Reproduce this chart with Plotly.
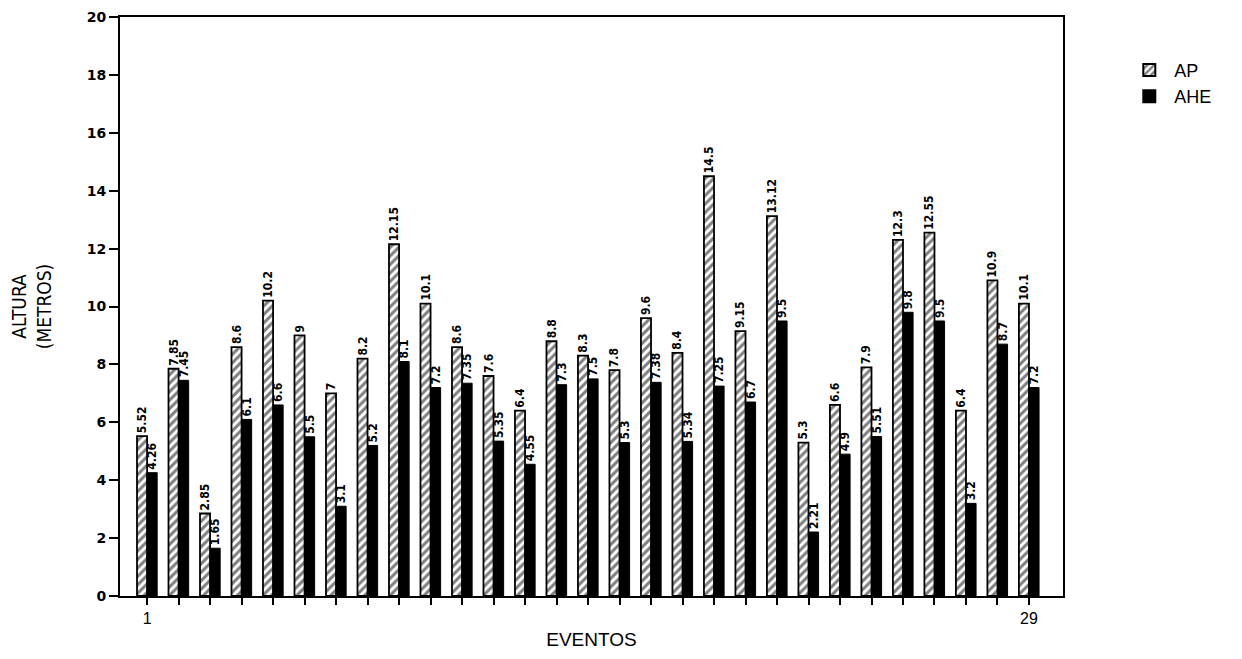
import plotly.graph_objects as go

eventos = list(range(1, 30))
ap = [5.52, 7.85, 2.85, 8.6, 10.2, 9, 7, 8.2, 12.15, 10.1, 8.6, 7.6, 6.4, 8.8, 8.3,
      7.8, 9.6, 8.4, 14.5, 9.15, 13.12, 5.3, 6.6, 7.9, 12.3, 12.55, 6.4, 10.9, 10.1]
ahe = [4.26, 7.45, 1.65, 6.1, 6.6, 5.5, 3.1, 5.2, 8.1, 7.2, 7.35, 5.35, 4.55, 7.3, 7.5,
       5.3, 7.38, 5.34, 7.25, 6.7, 9.5, 2.21, 4.9, 5.51, 9.8, 9.5, 3.2, 8.7, 7.2]
ap_text = ["5.52", "7.85", "2.85", "8.6", "10.2", "9", "7", "8.2", "12.15", "10.1", "8.6",
           "7.6", "6.4", "8.8", "8.3", "7.8", "9.6", "8.4", "14.5", "9.15", "13.12", "5.3",
           "6.6", "7.9", "12.3", "12.55", "6.4", "10.9", "10.1"]
ahe_text = ["4.26", "7.45", "1.65", "6.1", "6.6", "5.5", "3.1", "5.2", "8.1", "7.2", "7.35",
            "5.35", "4.55", "7.3", "7.5", "5.3", "7.38", "5.34", "7.25", "6.7", "9.5", "2.21",
            "4.9", "5.51", "9.8", "9.5", "3.2", "8.7", "7.2"]
y_ticks = [0, 2, 4, 6, 8, 10, 12, 14, 16, 18, 20]
x_ticktext = ["1"] + [""] * 27 + ["29"]

label_font = dict(family="DejaVu Sans Condensed, Liberation Sans Narrow, Arial Narrow, sans-serif",
                  size=12, color="black", weight="bold")

fig = go.Figure()
fig.add_trace(go.Bar(
    x=eventos, y=ap, name="AP", text=ap_text, textposition="outside", textangle=-90,
    textfont=label_font, constraintext="none", cliponaxis=False,
    marker=dict(color="white", line=dict(color="black", width=1.8),
                pattern=dict(shape="/", fgcolor="black", bgcolor="white", size=6, solidity=0.5)),
))
fig.add_trace(go.Bar(
    x=eventos, y=ahe, name="AHE", text=ahe_text, textposition="outside", textangle=-90,
    textfont=label_font, constraintext="none", cliponaxis=False,
    marker=dict(color="black", line=dict(color="black", width=1)),
))

fig.update_layout(
    width=1234, height=651,
    paper_bgcolor="white", plot_bgcolor="white",
    margin=dict(l=112, r=179, t=9, b=63, autoexpand=False),
    barmode="group", bargap=0.36, bargroupgap=0,
    font=dict(family="Liberation Sans, Arial, sans-serif", color="black"),
    legend=dict(x=1.065, y=0.94, xanchor="left", yanchor="top",
                font=dict(size=18, family="Liberation Sans, Arial, sans-serif"),
                tracegroupgap=30, itemsizing="constant", itemwidth=40),
    xaxis=dict(range=[0.14, 30.08], tickvals=eventos, ticktext=x_ticktext,
               ticks="outside", ticklen=7, tickwidth=1.5, tickcolor="black",
               showline=True, linecolor="black", linewidth=2, mirror=True,
               showgrid=False, zeroline=False, automargin=False,
               tickfont=dict(size=16),
               title=dict(text="EVENTOS", font=dict(size=19, family="Liberation Sans, Arial, sans-serif"),
                          standoff=6)),
    yaxis=dict(range=[0, 20], tickvals=y_ticks, ticks="outside", ticklen=9, tickwidth=1.5,
               tickcolor="black", showline=True, linecolor="black", linewidth=2, mirror=True,
               showgrid=False, zeroline=False, automargin=False, ticklabeloverflow="allow",
               tickfont=dict(size=14, family="DejaVu Sans, sans-serif", weight="bold"),
               title=dict(text="ALTURA<br>(METROS)",
                          font=dict(size=19, family="DejaVu Sans Condensed, Liberation Sans Narrow, sans-serif"),
                          standoff=40)),
)

fig.write_html("out.html")
